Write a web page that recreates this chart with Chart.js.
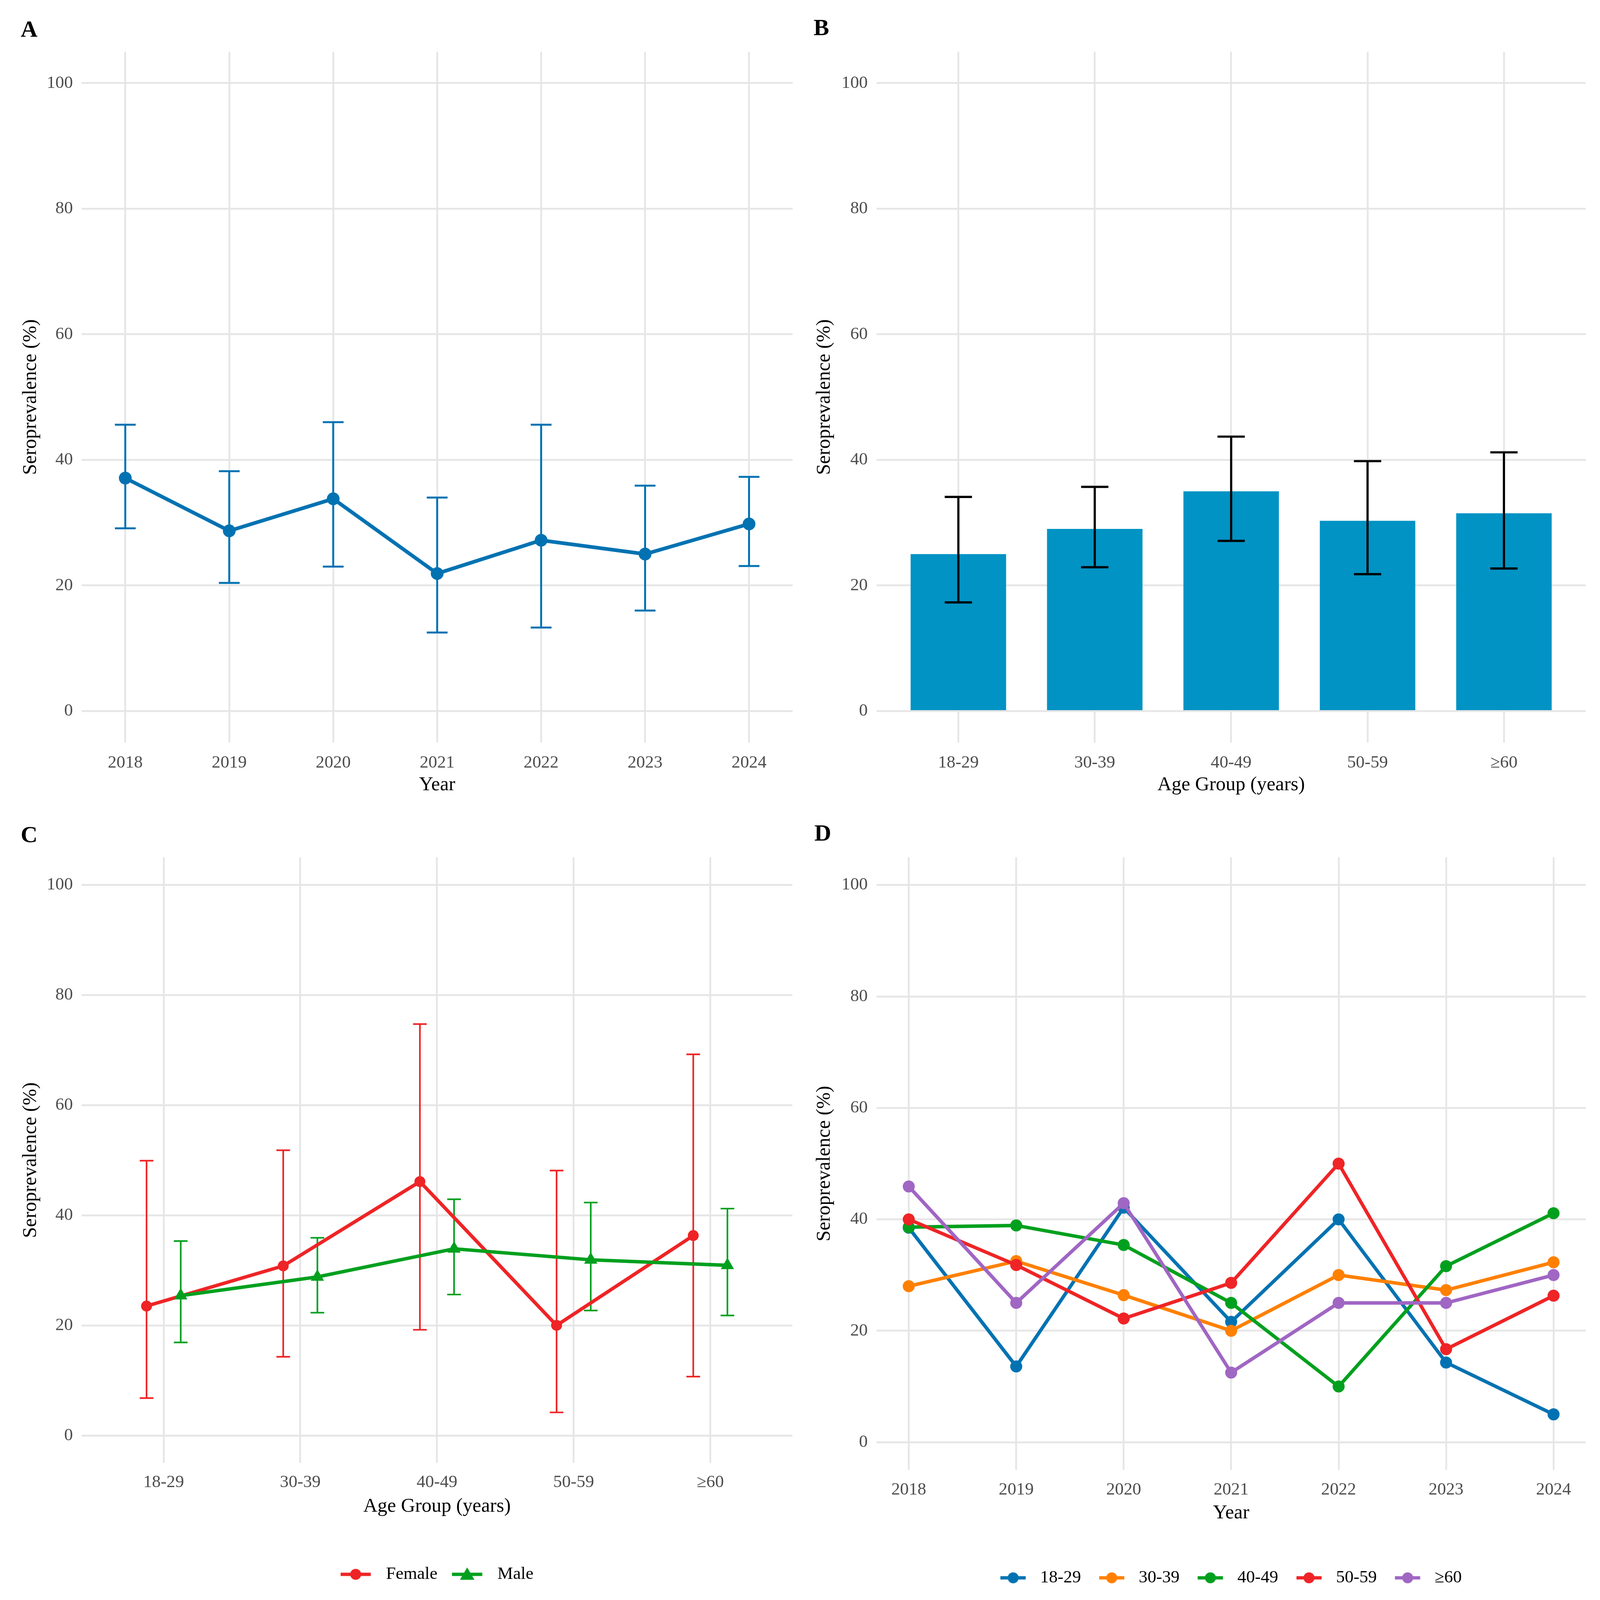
<!DOCTYPE html>
<html>
<head>
<meta charset="utf-8">
<title>Seroprevalence by year, age group and sex</title>
<script src="https://cdn.jsdelivr.net/npm/chart.js@4.4.1/dist/chart.umd.min.js"></script>
<style>
  html, body { margin: 0; background: #fff; overflow: hidden; }
  #wrap { position: relative; background: #fff; overflow: hidden; }
  canvas { position: absolute; }
  .tag {
    position: absolute;
    font-family: "Liberation Serif", serif;
    font-weight: bold;
    transform: translate(-50%, -50%);
    color: #000;
  }
</style>
</head>
<body>
<div id="wrap"></div>
<script>
// ---- data ----
const years = [2018, 2019, 2020, 2021, 2022, 2023, 2024];
const ageGroups = ["18-29", "30-39", "40-49", "50-59", "≥60"];
const yTicks = [0, 20, 40, 60, 80, 100];

// A: overall by year
const overallPrev = [37.1, 28.7, 33.8, 21.9, 27.2, 25.0, 29.8];
const overallLow  = [29.1, 20.4, 23.0, 12.5, 13.3, 16.0, 23.1];
const overallHigh = [45.6, 38.2, 46.0, 34.0, 45.6, 35.9, 37.3];

// B: by age group
const agePrev = [25.0, 29.0, 35.0, 30.3, 31.5];
const ageLow  = [17.3, 22.9, 27.1, 21.8, 22.7];
const ageHigh = [34.1, 35.7, 43.7, 39.8, 41.2];

// C: by sex and age group
const femalePrev = [23.5, 30.8, 46.1, 20.0, 36.3];
const femaleLow  = [6.8, 14.3, 19.2, 4.2, 10.7];
const femaleHigh = [49.9, 51.8, 74.7, 48.1, 69.2];
const malePrev = [25.4, 28.8, 33.9, 31.9, 30.9];
const maleLow  = [16.9, 22.3, 25.6, 22.7, 21.8];
const maleHigh = [35.3, 35.9, 42.9, 42.3, 41.2];

// D: age group by year
const age1829 = [38.5, 13.6, 42.1, 21.6, 40.0, 14.3, 5.0];
const age3039 = [28.0, 32.5, 26.4, 20.0, 30.0, 27.3, 32.3];
const age4049 = [38.6, 38.9, 35.4, 25.0, 10.0, 31.6, 41.1];
const age5059 = [40.0, 31.8, 22.2, 28.6, 50.0, 16.7, 26.3];
const age60   = [45.9, 25.0, 42.9, 12.5, 25.0, 25.0, 30.0];

// ---- styling ----
const FONT = "Liberation Serif";
const GRID = "#E6E6E6";
const TICK = "#4D4D4D";
const BLUE = "#0072B2";
const BAR = "#0093C4";
const RED = "#EF2426";
const GREEN = "#00A01E";
const ORANGE = "#FF8000";
const PURPLE = "#A066C3";

// layout is designed for a 4391x4113 page and stretched to the window
const SX = (window.innerWidth || 4391) / 4391;
const SY = (window.innerHeight || 4113) / 4113;
const FS = SX;
const wrap = document.getElementById("wrap");
wrap.style.width = Math.round(4391 * SX) + "px";
wrap.style.height = Math.round(4113 * SY) + "px";

function makeCanvas(left, top, w, h) {
    const c = document.createElement("canvas");
    const cw = Math.round(w * SX), ch = Math.round(h * SY);
    c.width = cw; c.height = ch;
    c.style.cssText = `left:${Math.round(left * SX)}px;top:${Math.round(top * SY)}px;width:${cw}px;height:${ch}px`;
    wrap.appendChild(c);
    return c;
}

function addTag(text, x, y) {
    const d = document.createElement("div");
    d.className = "tag";
    d.textContent = text;
    d.style.left = (x * SX) + "px";
    d.style.top = (y * SY) + "px";
    d.style.fontSize = (64 * FS) + "px";
    wrap.appendChild(d);
}

// error bars drawn through the chart scales
const errorBars = {
    id: "errorBars",
    beforeDatasetsDraw(chart, args, opts) { if (!opts.onTop) drawErrors(chart, opts); },
    afterDatasetsDraw(chart, args, opts) { if (opts.onTop) drawErrors(chart, opts); }
};

function drawErrors(chart, opts) {
    const { ctx, scales: { x, y } } = chart;
    chart.data.datasets.forEach(ds => {
        if (!ds.errLow) return;
        ctx.save();
        ctx.strokeStyle = opts.color || ds.borderColor;
        ctx.lineWidth = opts.lineWidth;
        ds.data.forEach((pt, i) => {
            const px = x.getPixelForValue(pt.x);
            const l = x.getPixelForValue(pt.x - opts.capHalf);
            const r = x.getPixelForValue(pt.x + opts.capHalf);
            const top = y.getPixelForValue(ds.errHigh[i]);
            const bot = y.getPixelForValue(ds.errLow[i]);
            ctx.beginPath();
            ctx.moveTo(px, top); ctx.lineTo(px, bot);
            ctx.moveTo(l, top); ctx.lineTo(r, top);
            ctx.moveTo(l, bot); ctx.lineTo(r, bot);
            ctx.stroke();
        });
        ctx.restore();
    });
}

function yScale(width, titleX) {
    return {
        min: -5, max: 105,
        afterBuildTicks: s => { s.ticks = yTicks.map(v => ({ value: v })); },
        afterFit: s => { s.width = width * SX; },
        grid: { color: GRID, lineWidth: 5 * SX, drawTicks: false },
        border: { display: false },
        ticks: { color: TICK, font: { family: FONT, size: 48 * FS }, padding: 24 * SX },
        title: { display: true, text: "Seroprevalence (%)", color: "#000",
                 font: { family: FONT, size: 54 * FS }, padding: { top: titleX * SX - 32.4 * FS } }
    };
}

function xScale(min, max, values, labels, heightPx, tickPadPx, title, titlePadPx) {
    return {
        type: "linear",
        min: min, max: max,
        offset: false,
        afterBuildTicks: s => { s.ticks = values.map(v => ({ value: v })); },
        afterFit: s => { s.height = heightPx; },
        grid: { color: GRID, lineWidth: 5 * SX, drawTicks: false, offset: false },
        border: { display: false },
        ticks: { color: TICK, font: { family: FONT, size: 48 * FS }, padding: tickPadPx,
                 autoSkip: false, maxRotation: 0, callback: (v, i) => labels[i] },
        title: { display: true, text: title, color: "#000",
                 font: { family: FONT, size: 54 * FS }, padding: { top: 0, bottom: titlePadPx } }
    };
}

// panel geometry (design pixels, relative to the panel canvas)
function panelAxes(g, min, max, values, labels, title) {
    const tickPad = (g.tickY - g.plotBottom) * SY - 28.8 * FS;
    let xHeight, titlePad, padBottom;
    if (g.legendY) {
        const lp = g.legendPad * SX;
        const legendTop = g.legendY * SY - lp - 24 * FS;
        padBottom = g.h * SY - (g.legendY * SY + 24 * FS + 10);
        xHeight = legendTop - g.plotBottom * SY;
        titlePad = legendTop - g.titleY * SY - 32.4 * FS;
    } else {
        padBottom = 0;
        xHeight = (g.h - g.plotBottom) * SY;
        titlePad = (g.h - g.titleY) * SY - 32.4 * FS;
    }
    return {
        layout: { padding: { top: g.plotTop * SY, right: g.padRight * SX, bottom: padBottom, left: 0 } },
        scales: {
            x: xScale(min, max, values, labels, xHeight, tickPad, title, titlePad),
            y: yScale(g.yWidth, g.yTitleX)
        }
    };
}

function legendIcon(color, shape, boxW, lineLen) {
    const c = document.createElement("canvas");
    c.width = Math.round(boxW * SX); c.height = Math.round(48 * FS);
    const g = c.getContext("2d");
    const cy = c.height / 2;
    g.strokeStyle = color; g.fillStyle = color; g.lineWidth = 9 * SX;
    g.beginPath(); g.moveTo(0, cy); g.lineTo(lineLen * SX, cy); g.stroke();
    const cx = lineLen * SX / 2;
    g.beginPath();
    if (shape === "triangle") {
        g.moveTo(cx, cy - 19 * SX); g.lineTo(cx + 20 * SX, cy + 15 * SX); g.lineTo(cx - 20 * SX, cy + 15 * SX);
        g.closePath();
    } else {
        g.arc(cx, cy, 15 * SX, 0, Math.PI * 2);
    }
    g.fill();
    return c;
}

function legendOpts(padding, boxW, lineLen) {
    return {
        display: true, position: "bottom", fullSize: false,
        labels: {
            usePointStyle: true, pointStyleWidth: Math.round(boxW * SX), padding: padding * SX,
            color: "#000", font: { family: FONT, size: 48 * FS },
            generateLabels: chart => chart.data.datasets.map((ds, i) => ({
                text: ds.label,
                pointStyle: legendIcon(ds.borderColor, ds.pointStyle, boxW, lineLen),
                fillStyle: ds.borderColor, strokeStyle: ds.borderColor,
                lineWidth: 0, hidden: false, datasetIndex: i
            }))
        }
    };
}

const pts = (xs, ys, shift = 0) => xs.map((x, i) => ({ x: x + shift, y: ys[i] }));
const idx = ageGroups.map((g, i) => i);
const common = { responsive: false, animation: false, devicePixelRatio: 1 };

const geoA = { h: 2060, plotTop: 133, plotBottom: 1909, padRight: 20, tickY: 1962, titleY: 2019, yWidth: 224, yTitleX: 84 };
const geoB = { h: 2060, plotTop: 133, plotBottom: 1909, padRight: 39, tickY: 1962, titleY: 2019, yWidth: 210, yTitleX: 67 };
const geoC = { h: 2053, plotTop: 144, plotBottom: 1701, padRight: 20, tickY: 1751, titleY: 1813,
               legendY: 1987, legendPad: 40, yWidth: 224, yTitleX: 84 };
const geoD = { h: 2053, plotTop: 144, plotBottom: 1719, padRight: 39, tickY: 1770, titleY: 1830,
               legendY: 1996, legendPad: 50, yWidth: 210, yTitleX: 67 };

// ---- A ----
const axA = panelAxes(geoA, 2017.58, 2024.42, years, years.map(String), "Year");
new Chart(makeCanvas(0, 0, 2195, 2060), {
    type: "line",
    data: {
        datasets: [{
            label: "Overall", data: pts(years, overallPrev),
            errLow: overallLow, errHigh: overallHigh,
            borderColor: BLUE, backgroundColor: BLUE, borderWidth: 10 * SX,
            pointRadius: 17.5 * SX, pointBorderWidth: 0, tension: 0
        }]
    },
    options: {
        ...common, ...axA,
        plugins: { legend: { display: false }, tooltip: { enabled: false },
                   errorBars: { onTop: false, lineWidth: 5.3 * SX, capHalf: 0.1 } }
    },
    plugins: [errorBars]
});

// ---- B ----
const axB = panelAxes(geoB, -0.6, 4.6, idx, ageGroups, "Age Group (years)");
new Chart(makeCanvas(2195, 0, 2196, 2060), {
    type: "bar",
    data: {
        datasets: [{
            label: "Age group", data: pts(idx, agePrev),
            errLow: ageLow, errHigh: ageHigh,
            backgroundColor: BAR, borderWidth: 0,
            barPercentage: 0.7, categoryPercentage: 1.0
        }]
    },
    options: {
        ...common, ...axB,
        plugins: { legend: { display: false }, tooltip: { enabled: false },
                   errorBars: { onTop: true, lineWidth: 6 * SX, capHalf: 0.1, color: "#000" } }
    },
    plugins: [errorBars]
});

// ---- C ----
const axC = panelAxes(geoC, -0.6, 4.6, idx, ageGroups, "Age Group (years)");
new Chart(makeCanvas(0, 2060, 2195, 2053), {
    type: "line",
    data: {
        datasets: [{
            label: "Female", data: pts(idx, femalePrev, -0.125),
            errLow: femaleLow, errHigh: femaleHigh,
            borderColor: RED, backgroundColor: RED, borderWidth: 9.5 * SX,
            pointStyle: "circle", pointRadius: 15 * SX, pointBorderWidth: 0, tension: 0, order: 1
        }, {
            label: "Male", data: pts(idx, malePrev, 0.125),
            errLow: maleLow, errHigh: maleHigh,
            borderColor: GREEN, backgroundColor: GREEN, borderWidth: 9.5 * SX,
            pointStyle: "triangle", pointRadius: 21 * SX, pointBorderWidth: 0, tension: 0, order: 0
        }]
    },
    options: {
        ...common, ...axC,
        plugins: { legend: legendOpts(geoC.legendPad, 101, 83), tooltip: { enabled: false },
                   errorBars: { onTop: false, lineWidth: 4.5 * SX, capHalf: 0.05 } }
    },
    plugins: [errorBars]
});

// ---- D ----
const dSeries = [age1829, age3039, age4049, age5059, age60];
const dColors = [BLUE, ORANGE, GREEN, RED, PURPLE];
const axD = panelAxes(geoD, 2017.7, 2024.3, years, years.map(String), "Year");
new Chart(makeCanvas(2195, 2060, 2196, 2053), {
    type: "line",
    data: {
        datasets: dSeries.map((vals, i) => ({
            label: ageGroups[i], data: pts(years, vals),
            borderColor: dColors[i], backgroundColor: dColors[i], borderWidth: 9.5 * SX,
            pointStyle: "circle", pointRadius: 16.5 * SX, pointBorderWidth: 0, tension: 0,
            order: dSeries.length - 1 - i
        }))
    },
    options: {
        ...common, ...axD,
        plugins: { legend: legendOpts(geoD.legendPad, 85, 69), tooltip: { enabled: false } }
    }
});

addTag("A", 80, 74);
addTag("B", 2254, 70);
addTag("C", 80, 2145);
addTag("D", 2258, 2141);
</script>
</body>
</html>
